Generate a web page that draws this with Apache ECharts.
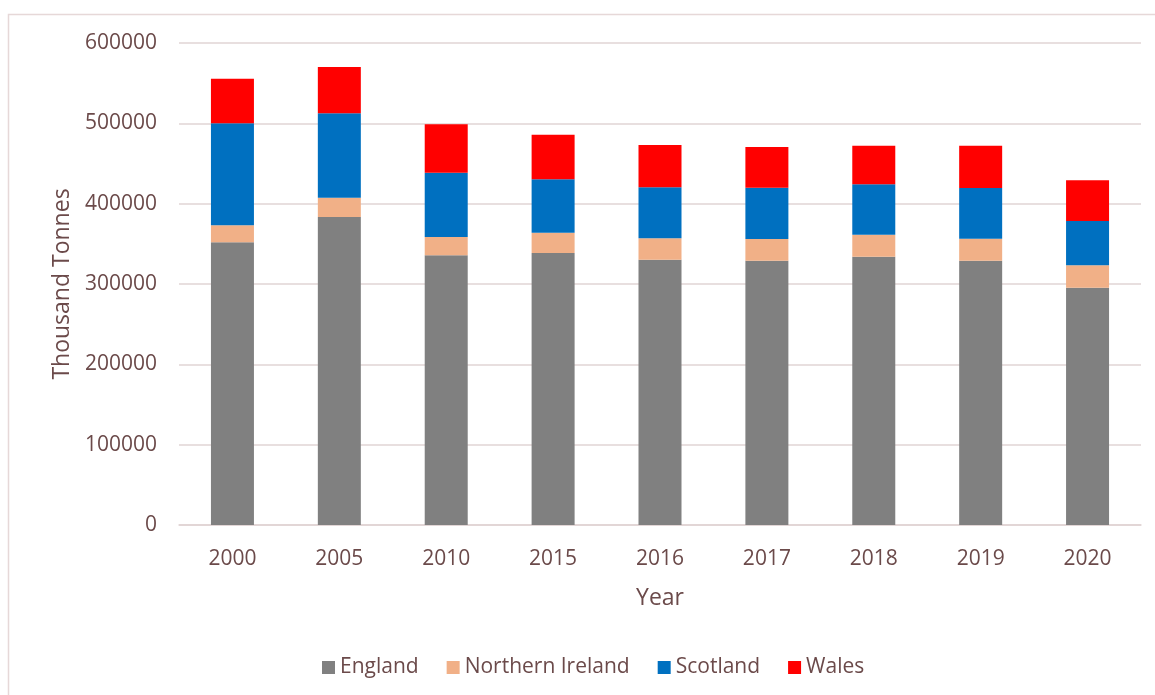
<!DOCTYPE html>
<html>
<head>
<meta charset="utf-8">
<script src="https://cdn.jsdelivr.net/npm/echarts@6/dist/echarts.min.js"></script>
<style>
  html, body { margin: 0; padding: 0; background: #fff; }
  #main { width: 1155px; height: 695px; }
</style>
</head>
<body>
<div id="main"></div>
<script>
// data (thousand tonnes)
var years = ['2000', '2005', '2010', '2015', '2016', '2017', '2018', '2019', '2020'];
var england = [352000, 383400, 335700, 338600, 330300, 329000, 334000, 329000, 295400];
var northernIreland = [21000, 24000, 22800, 25300, 26600, 27000, 27400, 27400, 27900];
var scotland = [127000, 105100, 80100, 66400, 63500, 63900, 62700, 63100, 55100];
var wales = [55500, 57600, 60200, 55600, 52600, 50700, 48100, 52700, 50700];

var textColor = '#6b4a4a';
var font = '"Open Sans", "Noto Sans", sans-serif';

function bar(name, data, color) {
    return {
        name: name,
        type: 'bar',
        stack: 'total',
        barWidth: 43,
        data: data,
        itemStyle: { color: color },
        emphasis: { disabled: true }
    };
}

var myChart = echarts.init(document.getElementById('main'));
var option = {
    animation: false,
    textStyle: { fontFamily: font },
    graphic: [{
        type: 'rect',
        shape: { x: 8.5, y: 14.5, width: 1160, height: 700 },
        style: { fill: 'none', stroke: '#e6d8d8', lineWidth: 1.5 },
        silent: true
    }],
    grid: { left: 179, right: 14, top: 43, bottom: 170 },
    legend: {
        top: 652,
        left: 317,
        itemWidth: 13,
        itemHeight: 13,
        itemGap: 28,
        icon: 'rect',
        textStyle: { color: textColor, fontSize: 21, fontFamily: font },
        data: ['England', 'Northern Ireland', 'Scotland', 'Wales']
    },
    xAxis: {
        type: 'category',
        data: years,
        name: 'Year',
        nameLocation: 'middle',
        nameGap: 62,
        nameTextStyle: { color: textColor, fontSize: 23, fontFamily: font },
        axisLine: { lineStyle: { color: '#e0d4d4', width: 1.5 } },
        axisTick: { show: false },
        axisLabel: { color: textColor, fontSize: 21, margin: 24, fontFamily: font }
    },
    yAxis: {
        type: 'value',
        min: 0,
        max: 600000,
        interval: 100000,
        name: 'Thousand Tonnes',
        nameLocation: 'middle',
        nameGap: 105,
        nameTextStyle: { color: textColor, fontSize: 23, fontFamily: font },
        axisLine: { show: false },
        axisTick: { show: false },
        axisLabel: {
            color: textColor, fontSize: 21, margin: 22, fontFamily: font,
            formatter: function (v) { return String(v); }
        },
        splitLine: { lineStyle: { color: '#e0d4d4', width: 1.5 } }
    },
    series: [
        bar('England', england, '#808080'),
        bar('Northern Ireland', northernIreland, '#f1b087'),
        bar('Scotland', scotland, '#0070c0'),
        bar('Wales', wales, '#ff0000')
    ]
};
myChart.setOption(option);
window.addEventListener('resize', function () {
    myChart.resize();
});
</script>
</body>
</html>
